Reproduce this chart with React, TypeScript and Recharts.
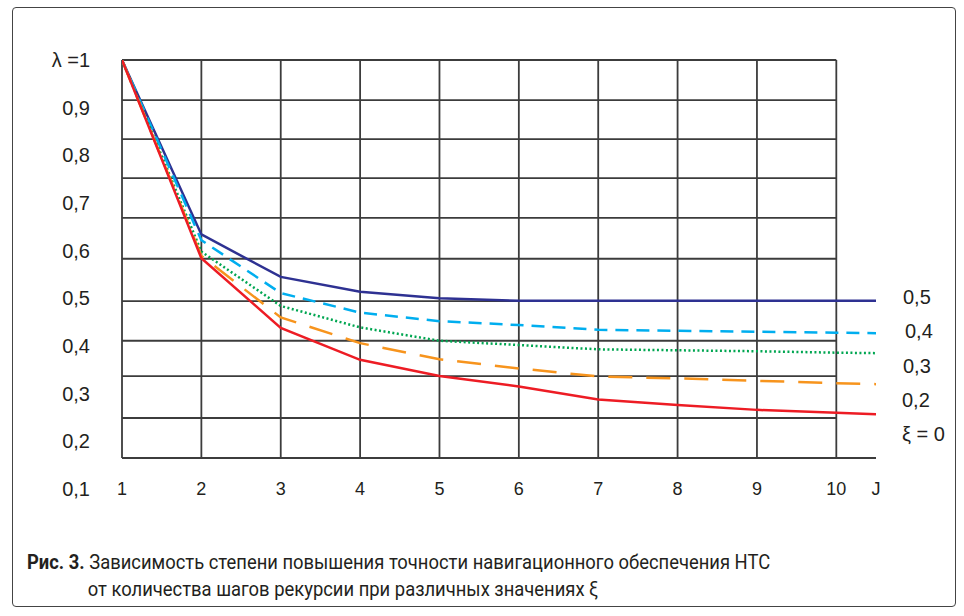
import { LineChart, Line, XAxis, YAxis, ReferenceLine } from "recharts";

// шаги рекурсии J (10.5 — конец линий у подписи J)
const steps = [1, 2, 3, 4, 5, 6, 7, 8, 9, 10, 10.5];
const xi05 = [1, 0.634, 0.545, 0.514, 0.5, 0.495, 0.495, 0.495, 0.495, 0.495, 0.495];
const xi04 = [1, 0.622, 0.511, 0.47, 0.452, 0.444, 0.434, 0.432, 0.43, 0.428, 0.427];
const xi03 = [1, 0.598, 0.484, 0.439, 0.411, 0.402, 0.393, 0.391, 0.389, 0.386, 0.385];
const xi02 = [1, 0.589, 0.46, 0.406, 0.372, 0.353, 0.336, 0.332, 0.327, 0.322, 0.32];
const xi00 = [1, 0.584, 0.438, 0.371, 0.337, 0.315, 0.288, 0.276, 0.266, 0.26, 0.257];

const yTicks = [0.1, 0.2, 0.3, 0.4, 0.5, 0.6, 0.7, 0.8, 0.9, 1];
const xTicks = [1, 2, 3, 4, 5, 6, 7, 8, 9, 10, 10.5];
// линии сетки (на рисунке они не совпадают с подписями оси)
const gridRows = [1, 0.916, 0.834, 0.752, 0.669, 0.583, 0.494, 0.411, 0.337, 0.249, 0.165];
const gridCols = [1, 2, 3, 4, 5, 6, 7, 8, 9, 10];

const seriesLabels = ["0,5", "0,4", "0,3", "0,2", "ξ = 0"];

const data = steps.map((j, i) => ({
    j,
    xi05: xi05[i],
    xi04: xi04[i],
    xi03: xi03[i],
    xi02: xi02[i],
    xi00: xi00[i],
}));

const font = "'Liberation Sans', Arial, sans-serif";
const gridColor = "#3c3c3c";
const labelPos = [
    { left: 903, top: 287 },
    { left: 905, top: 321 },
    { left: 903, top: 356 },
    { left: 902, top: 390 },
    { left: 902, top: 424 },
];

function XTick(props: any) {
    const { x, y, payload } = props;
    const text = payload.value === 10.5 ? "J" : String(payload.value);
    return (
        <text x={x} y={y} dy="0.35em" textAnchor="middle" fill="#231f20" fontSize={18} fontFamily={font}>
            {text}
        </text>
    );
}

function YTick(props: any) {
    const { x, y, payload } = props;
    const text = payload.value === 1 ? "λ =1" : String(payload.value).replace(".", ",");
    return (
        <text x={x} y={y} dy="0.35em" textAnchor="end" fill="#231f20" fontSize={20} fontFamily={font}>
            {text}
        </text>
    );
}

export default function App() {
    return (
        <div style={{ position: "absolute", left: 0, top: 0, width: 964, height: 616, background: "#fff" }}>
            <div
                style={{
                    position: "absolute",
                    left: 12,
                    top: 7,
                    width: 944,
                    height: 600,
                    border: "1.5px solid #444",
                    borderRadius: 4,
                    boxSizing: "border-box",
                }}
            />
            <div style={{ position: "absolute", left: 0, top: 0 }}>
                <LineChart width={964} height={530} data={data} margin={{ top: 60, right: 88, bottom: 11, left: 0 }}>
                    <XAxis
                        dataKey="j"
                        type="number"
                        domain={[1, 10.5]}
                        ticks={xTicks}
                        allowDataOverflow
                        axisLine={false}
                        tickLine={false}
                        tickSize={0}
                        tickMargin={0}
                        height={30}
                        interval={0}
                        tick={<XTick />}
                    />
                    <YAxis
                        type="number"
                        domain={[0.1, 1]}
                        ticks={yTicks}
                        allowDataOverflow
                        axisLine={false}
                        tickLine={false}
                        tickSize={0}
                        tickMargin={32}
                        width={122}
                        interval={0}
                        tick={<YTick />}
                    />
                    {gridRows.map((v, i) => (
                        <ReferenceLine
                            key={"r" + i}
                            segment={[
                                { x: 1, y: v },
                                { x: i === gridRows.length - 1 ? 10.5 : 10, y: v },
                            ]}
                            stroke={gridColor}
                            strokeWidth={1.8}
                        />
                    ))}
                    {gridCols.map((c) => (
                        <ReferenceLine
                            key={"c" + c}
                            segment={[
                                { x: c, y: 1 },
                                { x: c, y: gridRows[gridRows.length - 1] },
                            ]}
                            stroke={gridColor}
                            strokeWidth={1.8}
                        />
                    ))}
                    <Line type="linear" dataKey="xi05" stroke="#2e3192" strokeWidth={2.5} dot={false} isAnimationActive={false} />
                    <Line type="linear" dataKey="xi04" stroke="#00aeef" strokeWidth={2.5} strokeDasharray="13 8" dot={false} isAnimationActive={false} />
                    <Line type="linear" dataKey="xi03" stroke="#00a651" strokeWidth={2.5} strokeDasharray="2 2.5" dot={false} isAnimationActive={false} />
                    <Line type="linear" dataKey="xi02" stroke="#f7941d" strokeWidth={2.5} strokeDasharray="24 14" dot={false} isAnimationActive={false} />
                    <Line type="linear" dataKey="xi00" stroke="#ed1c24" strokeWidth={2.5} dot={false} isAnimationActive={false} />
                </LineChart>
            </div>
            {seriesLabels.map((s, i) => (
                <div
                    key={s}
                    style={{
                        position: "absolute",
                        left: labelPos[i].left,
                        top: labelPos[i].top,
                        fontFamily: font,
                        fontSize: 20,
                        lineHeight: "20px",
                        color: "#231f20",
                        whiteSpace: "nowrap",
                    }}
                >
                    {s}
                </div>
            ))}
            <div
                style={{
                    position: "absolute",
                    left: 27,
                    top: 549,
                    fontFamily: "Roboto, 'Noto Sans', sans-serif",
                    fontSize: 20,
                    lineHeight: "27px",
                    color: "#231f20",
                    whiteSpace: "nowrap",
                    transform: "scaleX(0.92)",
                    transformOrigin: "left top",
                }}
            >
                <div>
                    <b>Рис. 3.</b> Зависимость степени повышения точности навигационного обеспечения НТС
                </div>
                <div style={{ paddingLeft: 66 }}>от количества шагов рекурсии при различных значениях ξ</div>
            </div>
        </div>
    );
}
